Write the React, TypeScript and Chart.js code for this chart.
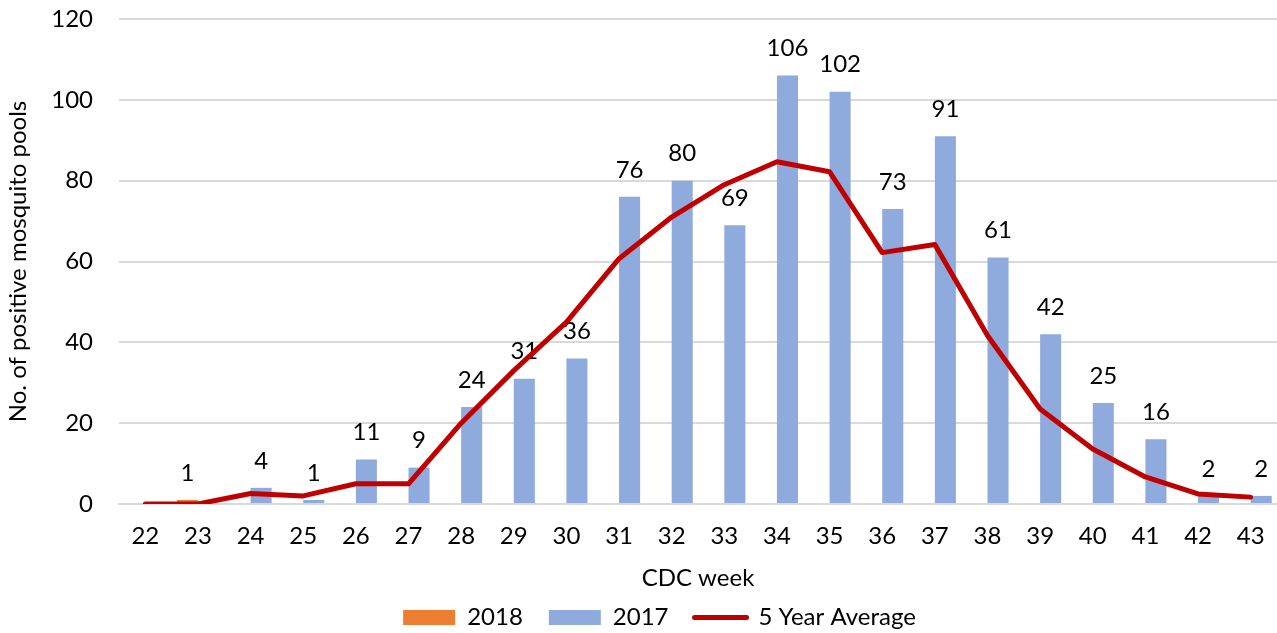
import React, { useEffect, useRef } from "react";
import { Chart, registerables } from "chart.js";

Chart.register(...registerables);

const weeks = ["22","23","24","25","26","27","28","29","30","31","32","33","34","35","36","37","38","39","40","41","42","43"];
const values2018: (number | null)[] = [null,1,null,null,null,null,null,null,null,null,null,null,null,null,null,null,null,null,null,null,null,null];
const values2017: (number | null)[] = [null,null,4,1,11,9,24,31,36,76,80,69,106,102,73,91,61,42,25,16,2,2];
const fiveYearAvg: number[] = [0,0,2.6,2,5,5,20,33,45,60.7,71,79,84.7,82.2,62.2,64.2,41.7,23.5,13.6,6.7,2.5,1.7];
const yTickMax = 120;
const yTickStep = 20;

const FONT = "Lato";
const ORANGE = "#ED7D31";
const BLUE = "#8FAADC";
const RED = "#C00000";
const GRID = "#D9D9D9";

const labelPlugin = {
  id: "barLabels",
  afterDatasetDraw(chart: any, args: any) {
    const ds = chart.data.datasets[args.index];
    if (ds.type === "line") return;
    const meta = args.meta;
    const ctx = chart.ctx;
    ctx.save();
    ctx.font = `24px ${FONT}`;
    ctx.fillStyle = "#000000";
    ctx.textAlign = "center";
    ctx.textBaseline = "middle";
    meta.data.forEach((el: any, i: number) => {
      const v = ds.data[i];
      if (v === null || v === undefined) return;
      ctx.fillText(String(v), el.x, el.y - 27);
    });
    ctx.restore();
  },
};

export default function App() {
  const ref = useRef<HTMLCanvasElement>(null);
  useEffect(() => {
    document.body.style.margin = "0";
    const chart = new Chart(ref.current!, {
      type: "bar",
      data: {
        labels: weeks,
        datasets: [
          {
            type: "line",
            label: "5 Year Average",
            data: fiveYearAvg,
            borderColor: RED,
            backgroundColor: RED,
            borderWidth: 5,
            pointRadius: 0,
            tension: 0,
            borderCapStyle: "round",
            borderJoinStyle: "round",
            order: 0,
          } as any,
          {
            label: "2018",
            data: values2018,
            backgroundColor: ORANGE,
            categoryPercentage: 0.8,
            barPercentage: 1,
            order: 1,
          },
          {
            label: "2017",
            data: values2017,
            backgroundColor: BLUE,
            categoryPercentage: 0.8,
            barPercentage: 1,
            order: 2,
          },
        ],
      },
      options: {
        animation: false,
        responsive: false,
        maintainAspectRatio: false,
        layout: { padding: { top: 19, right: 0, left: 42, bottom: -6.5 } },
        plugins: {
          tooltip: { enabled: false },
          legend: {
            position: "bottom",
            labels: {
              font: { family: FONT, size: 24 },
              color: "#000000",
              usePointStyle: true,
              pointStyleWidth: 52,
              boxHeight: 15,
              padding: 26,
              generateLabels: () => [
                { text: "2018", fillStyle: ORANGE, strokeStyle: ORANGE, lineWidth: 0, pointStyle: "rect", datasetIndex: 1, hidden: false, fontColor: "#000" },
                { text: "2017", fillStyle: BLUE, strokeStyle: BLUE, lineWidth: 0, pointStyle: "rect", datasetIndex: 2, hidden: false, fontColor: "#000" },
                { text: "5 Year Average", fillStyle: RED, strokeStyle: RED, lineWidth: 5, lineCap: "round", pointStyle: "line", datasetIndex: 0, hidden: false, fontColor: "#000" },
              ] as any,
            },
          },
        },
        scales: {
          x: {
            grid: { display: false, drawTicks: false },
            border: { display: true, color: GRID, width: 2 },
            ticks: { font: { family: FONT, size: 24 }, color: "#000000", padding: 18, maxRotation: 0, autoSkip: false },
            title: { display: true, text: "CDC week", font: { family: FONT, size: 24 }, color: "#000000", padding: { top: 0, bottom: -12.9 } },
            afterFit: (s: any) => {
              s.height = 75.5;
              s.paddingLeft = 0;
              s.paddingRight = 0;
            },
          },
          y: {
            min: 0,
            max: yTickMax,
            ticks: { stepSize: yTickStep, font: { family: FONT, size: 24 }, color: "#000000", padding: 26 },
            grid: { color: GRID, lineWidth: 2, drawTicks: false },
            border: { display: false },
            title: { display: true, text: "No. of positive mosquito pools", font: { family: FONT, size: 24 }, color: "#000000", padding: { top: -38.4, bottom: 0 } },
            afterFit: (s: any) => {
              s.width = 77;
              s.paddingTop = 0;
              s.paddingBottom = 0;
            },
          },
        },
      },
      plugins: [labelPlugin],
    });
    return () => chart.destroy();
  }, []);
  return (
    <div style={{ position: "absolute", left: 0, top: 0, width: 1277, height: 633 }}>
      <canvas ref={ref} width={1277} height={633} style={{ width: 1277, height: 633, display: "block" }} />
    </div>
  );
}
